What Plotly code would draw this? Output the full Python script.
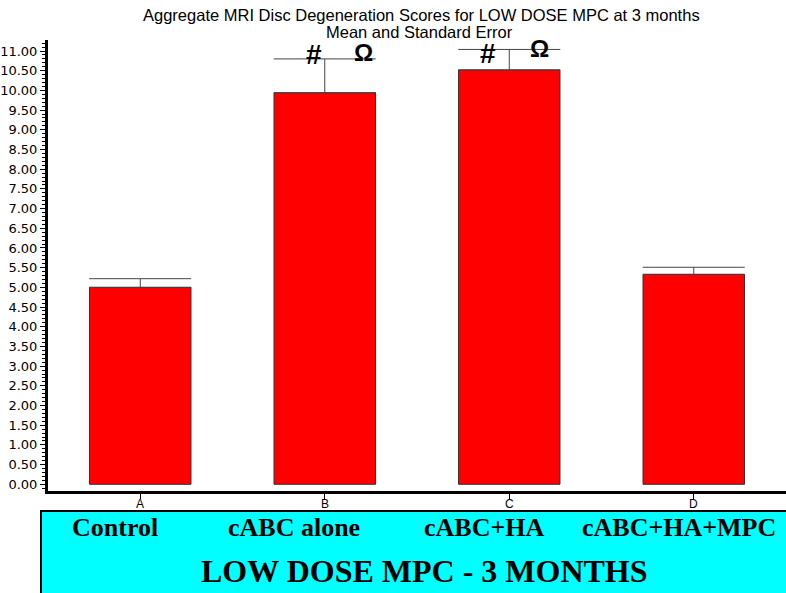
import plotly.graph_objects as go

# ---- data ----
categories = ["A", "B", "C", "D"]
group_labels = ["Control", "cABC alone", "cABC+HA", "cABC+HA+MPC"]
means = [5.00, 9.94, 10.52, 5.33]
sem = [0.22, 0.86, 0.52, 0.18]
y_tick_values = [i * 0.5 for i in range(23)]
title_line1 = "Aggregate MRI Disc Degeneration Scores for LOW DOSE MPC at 3 months"
title_line2 = "Mean and Standard Error"
panel_title = "LOW DOSE MPC - 3 MONTHS"
# significance markers: (category index, symbol, xshift px, yshift px, size)
markers = [(1, "#", -11, 4, 28), (1, "Ω", 39, 6, 24), (2, "#", -21, -4, 28), (2, "Ω", 30, 1, 24)]

W, H = 786, 593
L, R, T, B = 48, 0, 40, 102
PW, PH = W - L - R, H - T - B

def px_x(p):
    return (p - L) / PW

def px_y(p):
    return (H - B - p) / PH

fig = go.Figure()
fig.add_trace(go.Bar(
    x=categories, y=means, width=0.55,
    marker=dict(color="#FF0000", line=dict(color="#333333", width=1)),
    error_y=dict(type="data", array=sem, arrayminus=[0] * len(sem), symmetric=False,
                 color="#444444", thickness=1, width=51),
    showlegend=False, hoverinfo="skip",
))

annotations = []
for idx, sym, xs, ys, sz in markers:
    annotations.append(dict(
        x=categories[idx], y=means[idx] + sem[idx], xref="x", yref="y",
        xanchor="center", yanchor="middle",
        text="<b>" + sym + "</b>", showarrow=False, xshift=xs, yshift=ys,
        font=dict(family="Liberation Sans", size=sz, color="black"),
    ))

# category tick labels placed just under the axis ticks
for cat in categories:
    annotations.append(dict(x=cat, y=px_y(504), xref="x", yref="paper",
                            xanchor="center", yanchor="middle", text=cat, showarrow=False,
                            font=dict(family="Liberation Sans", size=12, color="black")))

def paper_text(text, cx, cy, family, size):
    return dict(x=px_x(cx), y=px_y(cy), xref="paper", yref="paper",
                xanchor="center", yanchor="middle", text=text, showarrow=False,
                font=dict(family=family, size=size, color="black"))

annotations.append(paper_text(title_line1, 421, 15, "Liberation Sans", 16.5))
annotations.append(paper_text(title_line2, 419, 32, "Liberation Sans", 16.5))

label_centers = [115, 294, 484, 679]
for lab, cx in zip(group_labels, label_centers):
    annotations.append(paper_text("<b>" + lab + "</b>", cx, 527, "Liberation Serif", 26))
annotations.append(paper_text("<b>" + panel_title + "</b>", 425, 571, "Liberation Serif", 32))

shapes = [dict(type="rect", xref="paper", yref="paper",
               x0=px_x(41), x1=px_x(800), y0=px_y(511), y1=px_y(610),
               fillcolor="#00FFFF", line=dict(color="black", width=2), layer="below")]

fig.update_layout(
    width=W, height=H, autosize=False,
    margin=dict(l=L, r=R, t=T, b=B, pad=0),
    paper_bgcolor="white", plot_bgcolor="white",
    annotations=annotations, shapes=shapes,
    xaxis=dict(range=[-0.5, 3.5], showline=True, linecolor="black", linewidth=3,
               ticks="outside", ticklen=5, tickwidth=1, tickcolor="black",
               showticklabels=False, showgrid=False, zeroline=False),
    yaxis=dict(range=[-0.17, 11.28], showline=True, linecolor="black", linewidth=3,
               tickvals=y_tick_values, tickformat=".2f",
               ticks="outside", ticklen=5, tickwidth=1, tickcolor="black",
               minor=dict(dtick=0.1, ticks="outside", ticklen=3, tickwidth=1, tickcolor="black"),
               showgrid=False, zeroline=False,
               tickfont=dict(family="DejaVu Sans", size=13, color="black")),
)

fig.write_html("out.html", config={"displayModeBar": False},
               post_script="document.body.style.margin='0';document.body.style.overflow='hidden';")
